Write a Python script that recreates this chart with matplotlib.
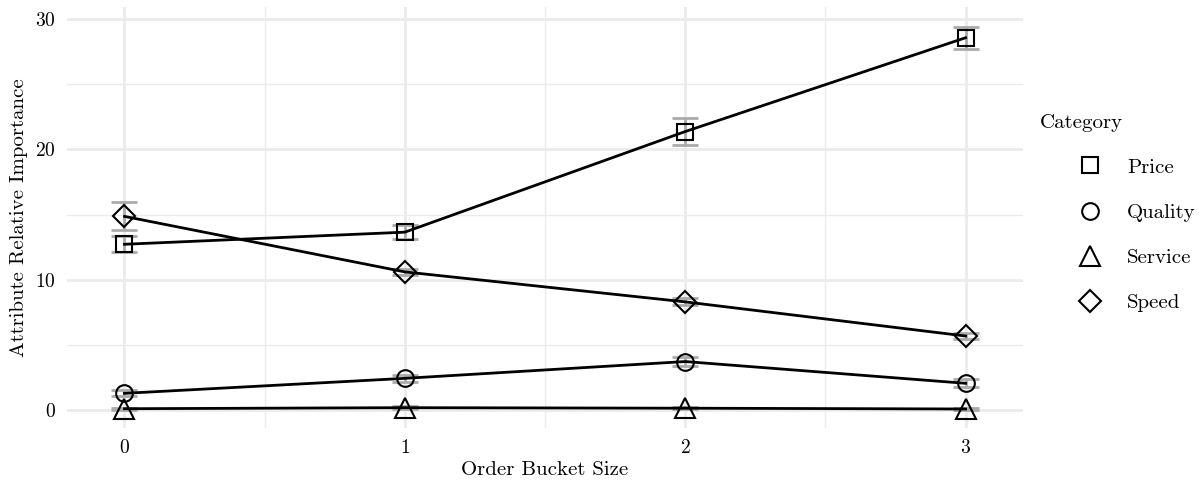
import matplotlib
matplotlib.use('Agg')
import matplotlib.pyplot as plt
from matplotlib.lines import Line2D
from matplotlib.ticker import MultipleLocator

plt.rcParams['font.family'] = 'cmr10'
plt.rcParams['axes.formatter.use_mathtext'] = True

# order bucket sizes
buckets = [0, 1, 2, 3]
categories = ['Price', 'Quality', 'Service', 'Speed']
markers = {'Price': 's', 'Quality': 'o', 'Service': '^', 'Speed': 'D'}
msizes = {'Price': 12, 'Quality': 12, 'Service': 15, 'Speed': 11}

# attribute relative importance, mean and error (half width)
price = [12.72, 13.65, 21.37, 28.57]
price_err = [0.6, 0.55, 1.03, 0.85]
quality = [1.28, 2.43, 3.72, 2.05]
quality_err = [0.22, 0.28, 0.38, 0.3]
service = [0.1, 0.18, 0.14, 0.08]
service_err = [0.08, 0.1, 0.08, 0.06]
speed = [14.86, 10.6, 8.3, 5.68]
speed_err = [1.07, 0.2, 0.27, 0.23]

values = {'Price': (price, price_err), 'Quality': (quality, quality_err),
          'Service': (service, service_err), 'Speed': (speed, speed_err)}

fig = plt.figure(figsize=(12.02, 4.83), dpi=100)
ax = fig.add_axes([67/1202, 55/483, (1023-67)/1202, (428-7)/483])

for cat in categories:
    y, err = values[cat]
    ax.errorbar(buckets, y, yerr=err, fmt='none', ecolor='#aaaaaa',
                elinewidth=2, capsize=9.5, capthick=2, zorder=2)
    ax.plot(buckets, y, color='black', lw=2, zorder=3)
    ax.plot(buckets, y, linestyle='none', marker=markers[cat], ms=msizes[cat],
            mfc='none', mec='black', mew=1.5, zorder=4)

ax.set_xlim(-0.205, 3.205)
ax.set_ylim(-1.38, 30.93)
ax.xaxis.set_major_locator(MultipleLocator(1))
ax.xaxis.set_minor_locator(MultipleLocator(0.5))
ax.yaxis.set_major_locator(MultipleLocator(10))
ax.yaxis.set_minor_locator(MultipleLocator(5))
ax.grid(which='major', color='#ebebeb', lw=2)
ax.grid(which='minor', color='#ebebeb', lw=1)
ax.set_axisbelow(True)
for s in ax.spines.values():
    s.set_visible(False)
ax.tick_params(which='both', length=0, labelsize=14, pad=8)
ax.set_xlabel('Order Bucket Size', fontsize=15, labelpad=3)
ax.set_ylabel('Attribute Relative Importance', fontsize=15, labelpad=5)

# legend, title drawn separately so it sits left of the keys
fig.text(1040/1202, 1 - 123/483, 'Category', fontsize=15, va='center', ha='left')
handles = [Line2D([], [], linestyle='none', marker=markers[c], ms=msizes[c],
                  mfc='none', mec='black', mew=1.5) for c in categories]
leg = fig.legend(handles, categories, loc='upper left', bbox_to_anchor=(1069/1202, 1 - 158/483),
                 frameon=False, fontsize=15, borderaxespad=0, borderpad=0,
                 labelspacing=1.28, handletextpad=0.8, handlelength=2)

fig.savefig('out.png', dpi=100)
